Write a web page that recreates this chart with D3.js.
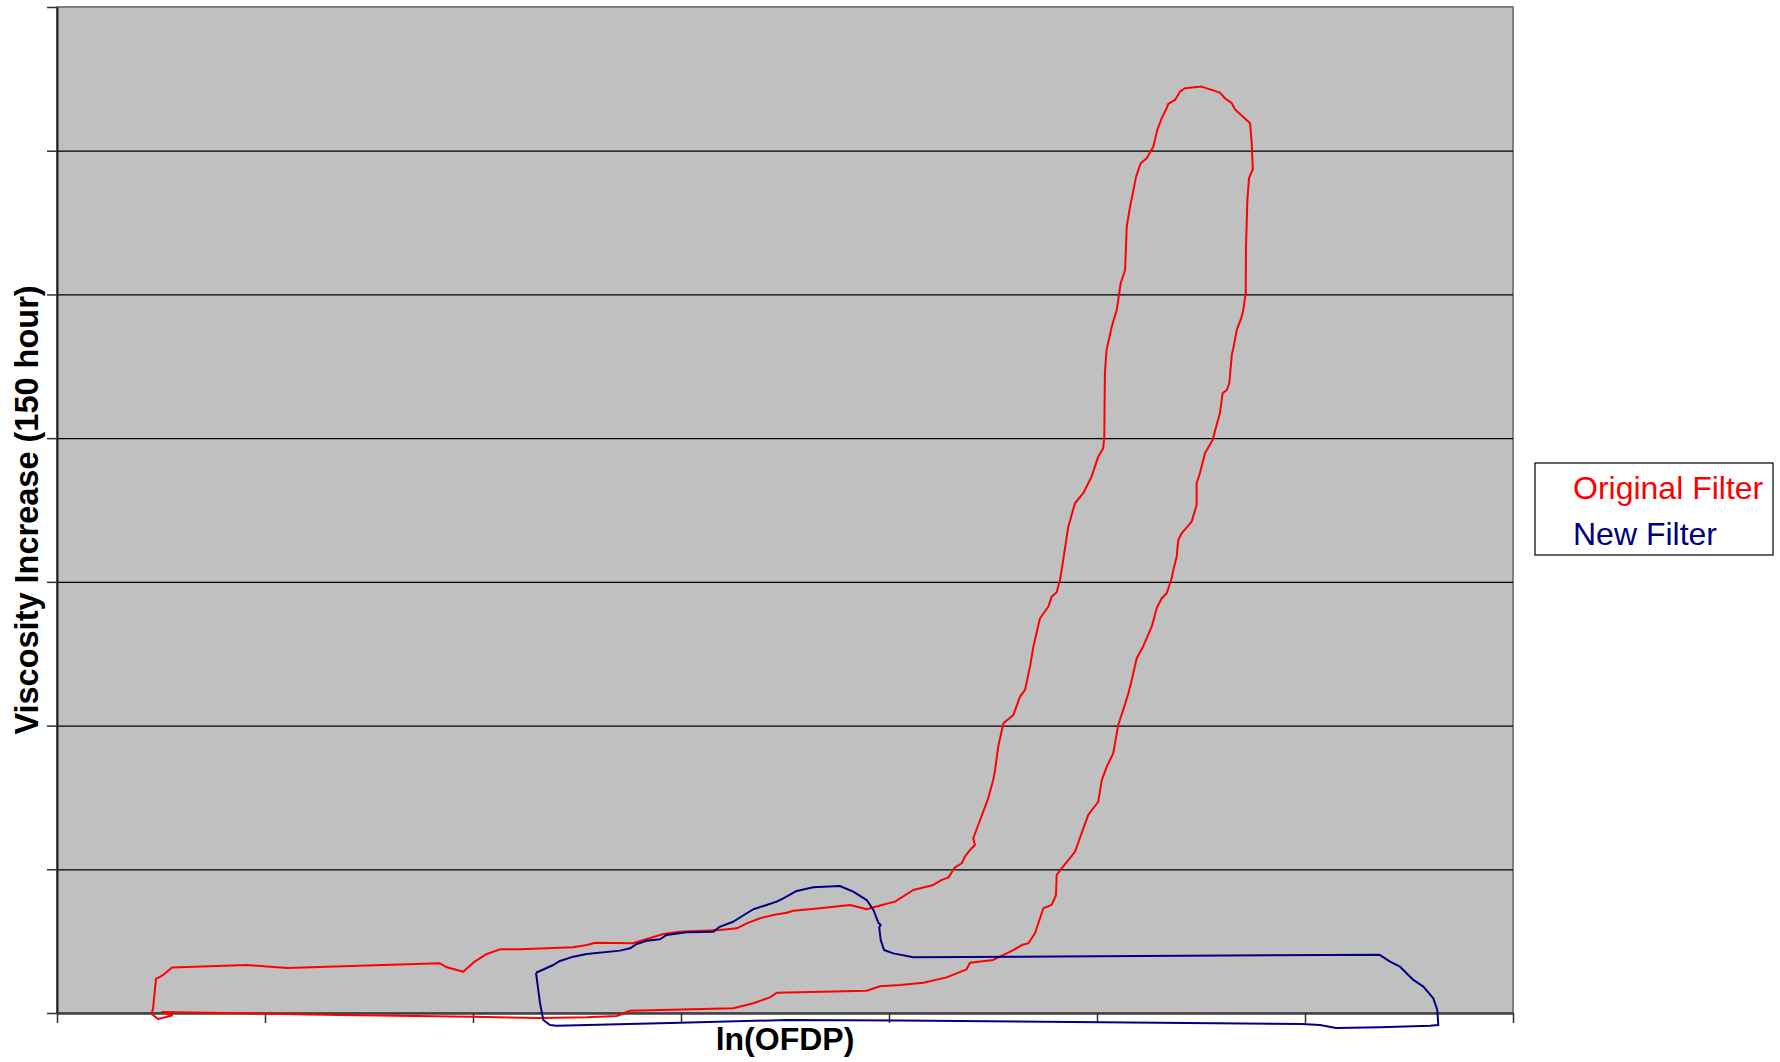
<!DOCTYPE html>
<html>
<head>
<meta charset="utf-8">
<script src="https://cdn.jsdelivr.net/npm/d3@7"></script>
<style>
body { margin: 0; background: #fff; }
svg { display: block; font-family: "Liberation Sans", Arial, sans-serif; }
</style>
</head>
<body>
<div id="chart"></div>
<script>
var width = 1780;
var height = 1062;
var plotLeft = 57, plotRight = 1513, plotTop = 7, plotBottom = 1013;

// axis ticks (the chart shows no tick labels)
var xTicks = [0, 1, 2, 3, 4, 5, 6, 7];
var yTicks = [0, 1, 2, 3, 4, 5, 6, 7];
var gridTicks = [1, 2, 3, 4, 5, 6];

var seriesNames = ["Original Filter", "New Filter"];
var seriesColors = ["#ff0000", "#000080"];

// [ln(OFDP), viscosity increase], in tick units
var originalFilter = [
    [0.462,0.035],[0.476,0.237],[0.510,0.264],[0.553,0.317],[0.913,0.334],[1.106,0.313],
    [1.841,0.346],[1.875,0.318],[1.953,0.287],[2.001,0.350],[2.066,0.411],[2.130,0.443],
    [2.226,0.443],[2.481,0.457],[2.548,0.473],[2.587,0.489],[2.769,0.485],[2.915,0.550],
    [2.995,0.566],[3.188,0.578],[3.268,0.589],[3.316,0.624],[3.380,0.659],[3.444,0.682],
    [3.508,0.698],[3.540,0.712],[3.668,0.729],[3.813,0.752],[3.893,0.722],[3.957,0.748],
    [4.029,0.775],[4.117,0.856],[4.213,0.891],[4.253,0.926],[4.285,0.942],[4.317,1.014],
    [4.350,1.042],[4.365,1.088],[4.389,1.134],[4.413,1.169],[4.405,1.216],[4.438,1.343],
    [4.477,1.494],[4.501,1.621],[4.510,1.691],[4.525,1.853],[4.550,2.016],[4.598,2.074],
    [4.630,2.201],[4.654,2.248],[4.678,2.410],[4.694,2.549],[4.726,2.747],[4.766,2.827],
    [4.782,2.897],[4.806,2.928],[4.822,3.013],[4.834,3.118],[4.862,3.384],[4.894,3.547],
    [4.934,3.617],[4.974,3.732],[5.006,3.871],[5.030,3.930],[5.035,4.010],[5.038,4.452],
    [5.046,4.614],[5.071,4.776],[5.095,4.892],[5.114,5.078],[5.135,5.170],[5.143,5.472],
    [5.159,5.611],[5.188,5.820],[5.210,5.913],[5.239,5.948],[5.271,6.029],[5.290,6.145],
    [5.311,6.226],[5.335,6.296],[5.343,6.326],[5.375,6.353],[5.399,6.411],[5.423,6.435],
    [5.503,6.446],[5.591,6.404],[5.615,6.365],[5.648,6.331],[5.663,6.289],[5.736,6.191],
    [5.744,6.052],[5.749,5.871],[5.731,5.809],[5.723,5.658],[5.716,5.310],[5.715,5.008],
    [5.703,4.892],[5.696,4.846],[5.672,4.753],[5.656,4.628],[5.648,4.579],[5.636,4.382],
    [5.624,4.335],[5.604,4.312],[5.591,4.173],[5.575,4.092],[5.556,3.987],[5.519,3.895],
    [5.495,3.756],[5.479,3.686],[5.479,3.535],[5.455,3.419],[5.407,3.338],[5.391,3.292],
    [5.383,3.175],[5.367,3.083],[5.359,3.025],[5.335,2.921],[5.311,2.886],[5.287,2.816],
    [5.263,2.688],[5.223,2.554],[5.191,2.468],[5.167,2.317],[5.151,2.225],[5.126,2.109],
    [5.102,2.004],[5.078,1.807],[5.047,1.714],[5.023,1.621],[5.006,1.470],[4.958,1.378],
    [4.894,1.122],[4.830,1.007],[4.806,0.960],[4.803,0.821],[4.782,0.752],[4.742,0.729],
    [4.702,0.555],[4.670,0.485],[4.638,0.473],[4.598,0.438],[4.550,0.404],[4.501,0.369],
    [4.389,0.350],[4.373,0.304],[4.277,0.248],[4.165,0.211],[4.053,0.195],[3.957,0.186],
    [3.893,0.155],[3.460,0.141],[3.428,0.109],[3.348,0.068],[3.251,0.033],[2.755,0.016],
    [2.691,-0.021],[2.547,-0.030],[2.322,-0.035],[2.000,-0.026],[1.361,-0.014],[0.505,0.007],
    [0.553,-0.017],[0.486,-0.042],[0.455,-0.007],[0.462,0.035]
];

var newFilter = [
    [2.303,0.280],[2.386,0.334],[2.418,0.362],[2.482,0.392],[2.547,0.411],[2.707,0.434],
    [2.755,0.450],[2.787,0.480],[2.835,0.503],[2.899,0.513],[2.931,0.543],[3.027,0.562],
    [3.155,0.566],[3.188,0.601],[3.251,0.635],[3.316,0.694],[3.348,0.722],[3.412,0.752],
    [3.460,0.775],[3.492,0.798],[3.556,0.849],[3.636,0.875],[3.764,0.884],[3.828,0.844],
    [3.893,0.786],[3.925,0.717],[3.949,0.628],[3.960,0.612],[3.953,0.596],[3.960,0.508],
    [3.976,0.438],[4.021,0.415],[4.117,0.388],[5.207,0.397],[6.357,0.406],[6.409,0.357],
    [6.457,0.322],[6.521,0.230],[6.569,0.183],[6.617,0.102],[6.636,0.021],[6.641,-0.084],
    [6.601,-0.088],[6.361,-0.100],[6.149,-0.104],[6.072,-0.084],[5.986,-0.077],[5.019,-0.065],
    [4.053,-0.052],[3.508,-0.049],[2.995,-0.068],[2.402,-0.088],[2.370,-0.084],[2.338,-0.049],
    [2.322,0.070],[2.303,0.280]
];

var x = d3.scaleLinear().domain([0, 7]).range([plotLeft, plotRight]);
var y = d3.scaleLinear().domain([0, 7]).range([plotBottom, plotTop]);

var svg = d3.select("#chart")
    .append("svg")
    .attr("width", width)
    .attr("height", height);

// grey plot area with its border
svg.append("rect")
    .attr("x", plotLeft)
    .attr("y", plotTop)
    .attr("width", plotRight - plotLeft)
    .attr("height", plotBottom - plotTop)
    .attr("fill", "#c0c0c0")
    .attr("stroke", "#808080")
    .attr("stroke-width", 2);

// horizontal gridlines
svg.append("g")
    .attr("id", "grid")
    .attr("transform", "translate(" + plotLeft + ",0)")
    .call(d3.axisLeft(y).tickValues(gridTicks).tickSize(-(plotRight - plotLeft)).tickFormat(""))
    .call(function(g){ g.select(".domain").remove(); })
    .selectAll("line")
        .attr("stroke", "#000")
        .attr("stroke-width", 1.2);

// the value axis
svg.append("g")
    .attr("id", "y-axis")
    .attr("transform", "translate(" + plotLeft + ",0)")
    .call(d3.axisLeft(y).tickValues(yTicks).tickSize(10).tickSizeOuter(0).tickFormat(""))
    .call(function(g){
        g.select(".domain").attr("stroke", "#202020").attr("stroke-width", 2);
        g.selectAll("line").attr("stroke", "#303030").attr("stroke-width", 1.5);
    });

// the ln(OFDP) axis
svg.append("g")
    .attr("id", "x-axis")
    .attr("transform", "translate(0," + plotBottom + ")")
    .call(d3.axisBottom(x).tickValues(xTicks).tickSize(10).tickSizeOuter(0).tickFormat(""))
    .call(function(g){
        g.select(".domain").attr("stroke", "#404040").attr("stroke-width", 2.5);
        g.selectAll("line").attr("stroke", "#303030").attr("stroke-width", 1.5);
    });

// the two filter curves
var line = d3.line()
    .x(function(d){ return x(d[0]); })
    .y(function(d){ return y(d[1]); });

svg.append("g")
    .attr("id", "series")
    .selectAll("path")
    .data([originalFilter, newFilter])
    .enter()
        .append("path")
        .attr("d", line)
        .attr("fill", "none")
        .attr("stroke", function(d, i){ return seriesColors[i]; })
        .attr("stroke-width", 2)
        .attr("stroke-linejoin", "round");

// axis titles
svg.append("text")
    .attr("x", (plotLeft + plotRight) / 2)
    .attr("y", 1050)
    .attr("text-anchor", "middle")
    .attr("font-size", 32)
    .attr("font-weight", "bold")
    .text("ln(OFDP)");

svg.append("text")
    .attr("transform", "translate(38," + ((plotTop + plotBottom) / 2) + ") rotate(-90)")
    .attr("text-anchor", "middle")
    .attr("font-size", 32.5)
    .attr("font-weight", "bold")
    .text("Viscosity Increase (150 hour)");

// legend
var legend = svg.append("g").attr("id", "legend");
legend.append("rect")
    .attr("x", 1535)
    .attr("y", 463)
    .attr("width", 238)
    .attr("height", 92)
    .attr("fill", "#fff")
    .attr("stroke", "#000")
    .attr("stroke-width", 1.2);

legend.selectAll("text")
    .data(seriesNames)
    .enter()
        .append("text")
        .attr("x", 1573)
        .attr("y", function(d, i){ return 499 + i * 46; })
        .attr("font-size", 32)
        .attr("fill", function(d, i){ return seriesColors[i]; })
        .text(function(d){ return d; });
</script>
</body>
</html>
